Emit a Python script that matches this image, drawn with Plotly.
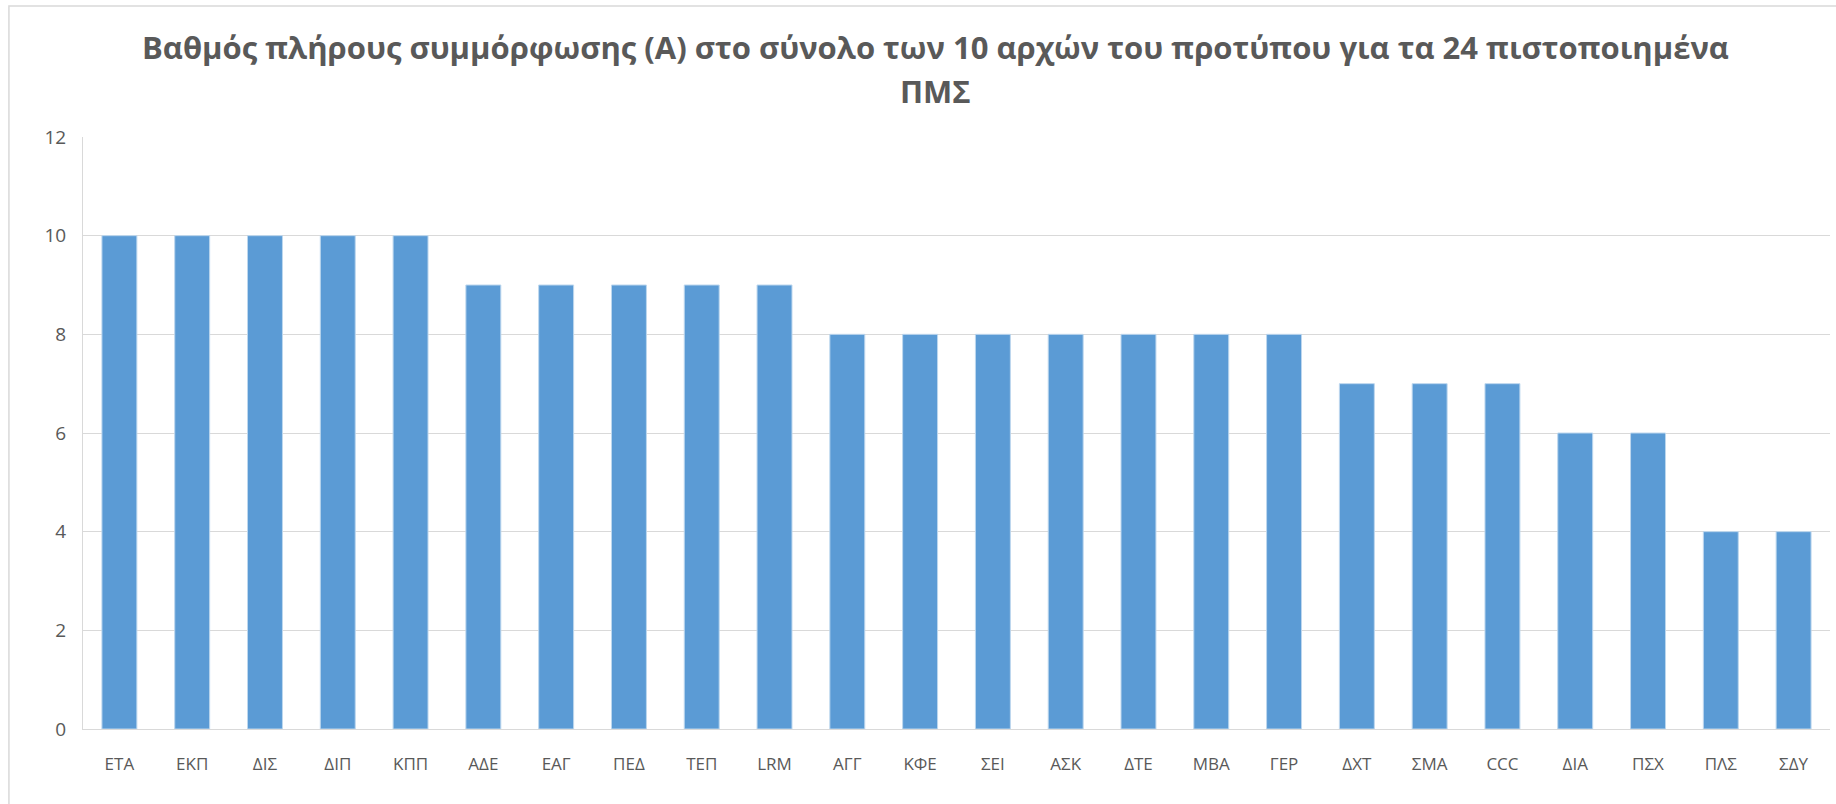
import plotly.graph_objects as go

categories = ["ΕΤΑ", "ΕΚΠ", "ΔΙΣ", "ΔΙΠ", "ΚΠΠ", "ΑΔΕ", "ΕΑΓ", "ΠΕΔ", "ΤΕΠ", "LRM",
              "ΑΓΓ", "ΚΦΕ", "ΣΕΙ", "ΑΣΚ", "ΔΤΕ", "ΜΒΑ", "ΓΕΡ", "ΔΧΤ", "ΣΜΑ", "CCC",
              "ΔΙΑ", "ΠΣΧ", "ΠΛΣ", "ΣΔΥ"]
values = [10, 10, 10, 10, 10, 9, 9, 9, 9, 9,
          8, 8, 8, 8, 8, 8, 8, 7, 7, 7,
          6, 6, 4, 4]
y_ticks = [0, 2, 4, 6, 8, 10, 12]
title_line1 = "Βαθμός πλήρους συμμόρφωσης (Α) στο σύνολο των 10 αρχών του προτύπου για τα 24 πιστοποιημένα"
title_line2 = "ΠΜΣ"

title_font = dict(size=31, color="#595959", family="Open Sans", weight="bold")

fig = go.Figure()
fig.add_trace(go.Bar(
    x=categories, y=values,
    marker=dict(color="#5B9BD5", line=dict(color="#BDD7EE", width=1)),
    width=0.48,
))

fig.update_layout(
    width=1836, height=804,
    margin=dict(l=83, r=6, t=137, b=75),
    paper_bgcolor="white", plot_bgcolor="white",
    font=dict(family="Open Sans", color="#595959"),
    showlegend=False,
    xaxis=dict(showgrid=False, showline=True, linecolor="#D9D9D9", linewidth=1,
               ticks="", tickfont=dict(size=17, color="#595959"), ticklabelstandoff=20),
    yaxis=dict(range=[0, 12], tickvals=y_ticks, showgrid=True, gridcolor="#D9D9D9",
               gridwidth=1, showline=True, linecolor="#D9D9D9", zeroline=False,
               ticks="", tickfont=dict(size=19, color="#595959"), ticklabelstandoff=12),
    annotations=[
        dict(text=title_line1, xref="paper", yref="paper", x=0.4877, y=1.152,
             xanchor="center", yanchor="middle", showarrow=False, font=title_font),
        dict(text=title_line2, xref="paper", yref="paper", x=0.4877, y=1.0777,
             xanchor="center", yanchor="middle", showarrow=False, font=title_font),
    ],
    shapes=[dict(type="rect", xref="paper", yref="paper",
                 x0=-0.0424, x1=1.2, y0=-0.5, y1=1.2213,
                 line=dict(color="#D9D9D9", width=1.5), layer="below")],
)

fig.write_html("out.html", config={"displayModeBar": False},
               post_script="document.body.style.margin='0';")
